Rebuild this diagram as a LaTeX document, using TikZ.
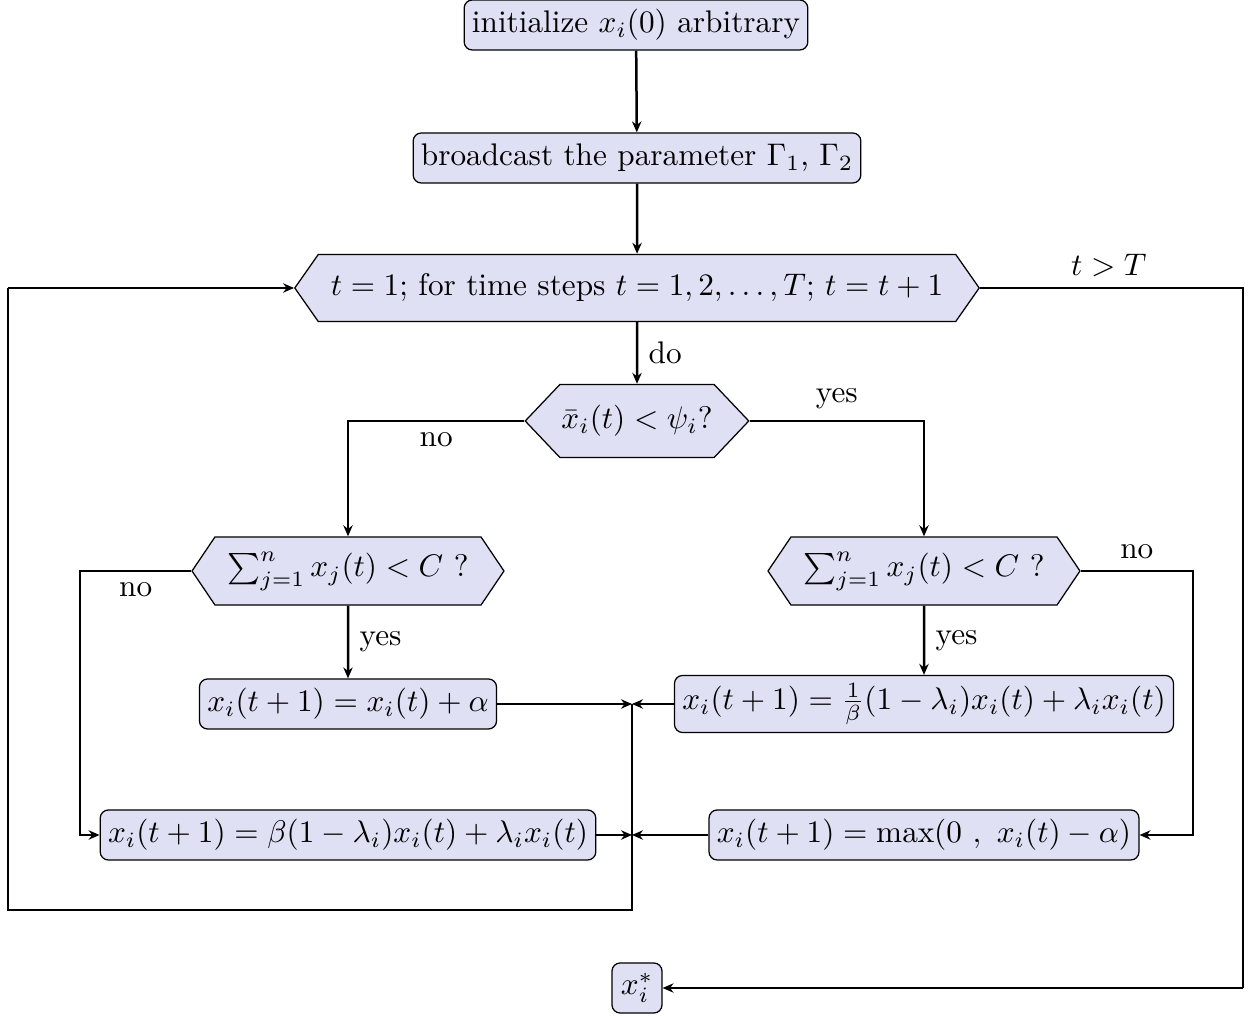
\documentclass[tikz,border=0pt]{standalone}
\usetikzlibrary{shapes.symbols,arrows.meta}
\definecolor{boxfill}{RGB}{224,224,245}
\begin{document}
\begin{tikzpicture}[x=0.32pt,y=-0.32pt,
  box/.style={draw, rounded corners=2.6pt, fill=boxfill, inner sep=2.5pt, minimum height=16pt},
  hexa/.style={draw, fill=boxfill, signal, signal to=west and east, inner xsep=4pt},
  conn/.style={thick, -{Stealth[length=3.5pt,width=3pt]}},
  line/.style={thick}]
\useasboundingbox (0,0) rectangle (1248,1016);
\node[box] (init) at (636,25) {initialize $x_i(0)$ arbitrary};
\node[box] (bc) at (637,158) {broadcast the parameter $\Gamma_1$, $\Gamma_2$};
\node[hexa, minimum height=21.5pt, signal pointer angle=110] (loop) at (637,288) {$t=1$; for time steps $t=1,2,\ldots,T$; $t=t+1$};
\node[hexa, minimum height=23.4pt, signal pointer angle=93, inner xsep=0.5pt] (dec) at (637,421) {$\bar{x}_i(t) < \psi_i$?};
\node[hexa, minimum height=21.8pt, signal pointer angle=112] (sl) at (348,571) {$\sum_{j=1}^{n} x_j(t) < C$ ?};
\node[hexa, minimum height=21.8pt, signal pointer angle=112] (sr) at (924,571) {$\sum_{j=1}^{n} x_j(t) < C$ ?};
\node[box] (bl) at (348,704) {$x_i(t+1) = x_i(t) + \alpha$};
\node[box] (br) at (924,704) {$x_i(t+1) = \frac{1}{\beta}(1-\lambda_i)x_i(t) + \lambda_i x_i(t)$};
\node[box] (bbl) at (348,835) {$x_i(t+1) = \beta(1-\lambda_i)x_i(t) + \lambda_i x_i(t)$};
\node[box] (bbr) at (924,835) {$x_i(t+1) = \max(0\ ,\ x_i(t) - \alpha)$};
\node[box, minimum width=16pt] (out) at (637,988) {$x_i^*$};
\coordinate (j1) at (632,704);
\coordinate (j2) at (632,835);
\coordinate (lb) at (632,910);
\coordinate (lc) at (8,910);
\coordinate (ld) at (8,288);
\coordinate (re) at (1243,288);
\coordinate (rf) at (1243,988);
\coordinate (ln) at (80,571);
\coordinate (rn) at (1193,571);

\draw[conn] (init) -- (bc);
\draw[conn] (bc) -- (loop);
\draw[conn] (loop) -- node[right] {do} (dec);
\draw[conn] (dec.west) -| node[pos=0.25, below] {no} (sl.north);
\draw[conn] (dec.east) -| node[pos=0.25, above] {yes} (sr.north);
\draw[conn] (sl) -- node[right] {yes} (bl);
\draw[conn] (sr) -- node[right] {yes} (br);
\draw[conn] (sl.west) -- node[pos=0.5, below] {no} (ln) |- (bbl.west);
\draw[conn] (sr.east) -- node[pos=0.5, above] {no} (rn) |- (bbr.east);
\draw[conn] (bl) -- (j1);
\draw[conn] (br) -- (j1);
\draw[conn] (bbl) -- (j2);
\draw[conn] (bbr) -- (j2);
\draw[line] (j1) -- (lb) -- (lc) -- (ld);
\draw[conn] (ld) -- (loop.west);
\draw[line] (loop.east) -- node[pos=0.49, above] {$t>T$} (re) -- (rf);
\draw[conn] (rf) -- (out);
\end{tikzpicture}
\end{document}
